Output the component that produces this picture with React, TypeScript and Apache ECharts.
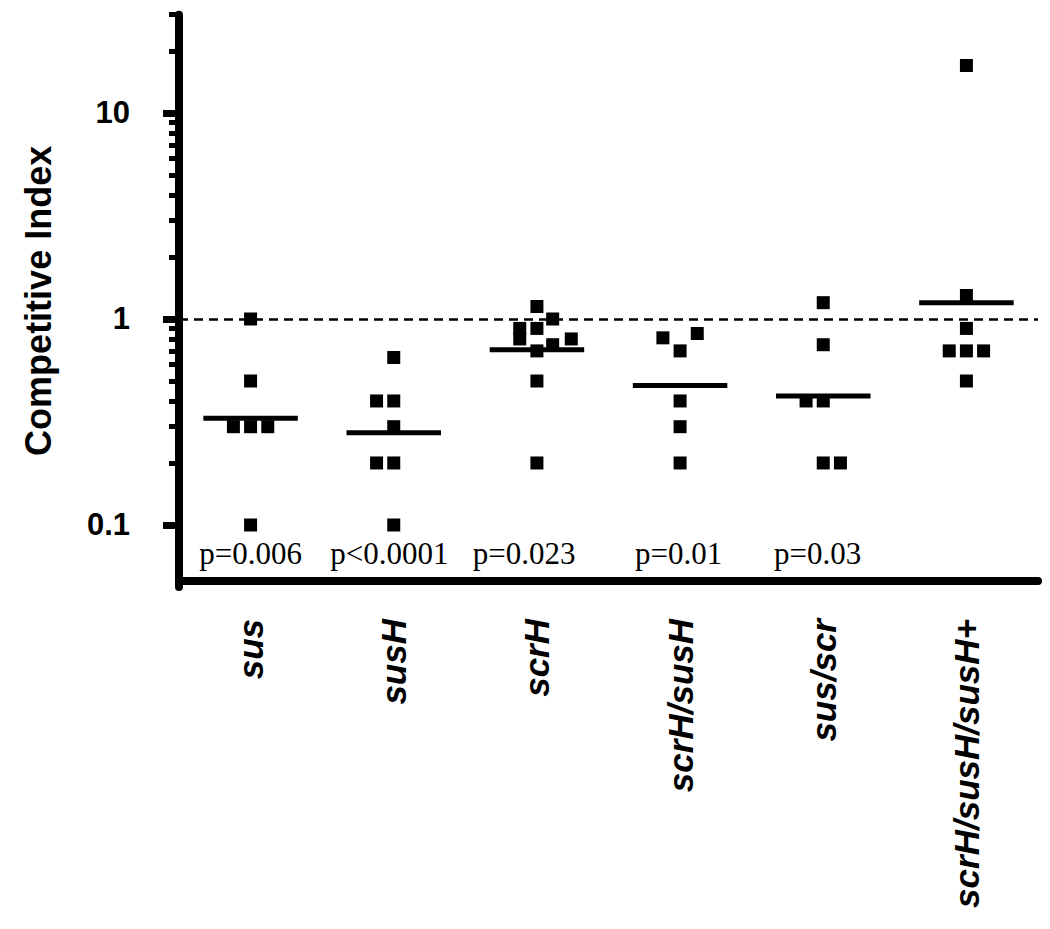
import React, { useEffect, useRef } from "react";
import * as echarts from "echarts";

const categories = ["sus", "susH", "scrH", "scrH/susH", "sus/scr", "scrH/susH/susH+"];

const susValues = [1.0, 0.5, 0.3, 0.3, 0.3, 0.1];
const susJitter = [0, 0, -0.12, 0, 0.12, 0];
const susHValues = [0.65, 0.4, 0.4, 0.3, 0.2, 0.2, 0.1];
const susHJitter = [0, -0.12, 0, 0, -0.12, 0, 0];
const scrHValues = [1.15, 1.0, 0.9, 0.8, 0.9, 0.8, 0.75, 0.7, 0.5, 0.2];
const scrHJitter = [0, 0.11, -0.12, -0.12, 0, 0.24, 0.11, 0, 0, 0];
const scrHsusHValues = [0.81, 0.85, 0.7, 0.4, 0.3, 0.2];
const scrHsusHJitter = [-0.12, 0.12, 0, 0, 0, 0];
const susScrValues = [1.2, 0.75, 0.4, 0.4, 0.2, 0.2];
const susScrJitter = [0, 0, -0.12, 0, 0, 0.12];
const tripleValues = [17, 1.3, 0.9, 0.7, 0.7, 0.7, 0.5];
const tripleJitter = [0, 0, 0, -0.12, 0, 0.12, 0];

const geoMeans = [0.33, 0.28, 0.71, 0.475, 0.423, 1.2];

const pLabels = ["p=0.006", "p<0.0001", "p=0.023", "p=0.01", "p=0.03"];
const pLabelX = [0, 0.97, 1.91, 2.99, 3.96];
const pLabelY = 0.073;

const yMin = 0.05;
const yMax = 30;
const referenceLevel = 1;
const yMajorTicks = [0.1, 1, 10];
const yMinorTicks = [0.2, 0.3, 0.4, 0.5, 0.6, 0.7, 0.8, 0.9, 2, 3, 4, 5, 6, 7, 8, 9, 20, 30];

export default function App() {
  const ref = useRef<HTMLDivElement>(null);

  useEffect(() => {
    if (!ref.current) return;
    const chart = echarts.init(ref.current, null, { renderer: "svg" });

    const groups = [
      [susValues, susJitter],
      [susHValues, susHJitter],
      [scrHValues, scrHJitter],
      [scrHsusHValues, scrHsusHJitter],
      [susScrValues, susScrJitter],
      [tripleValues, tripleJitter],
    ];
    const points: number[][] = [];
    groups.forEach(([vals, jit], i) => {
      vals.forEach((v, j) => points.push([i + jit[j], v]));
    });
    const meanData = geoMeans.map((v, i) => [i, v]);
    const pData = pLabels.map((t, i) => ({ value: [pLabelX[i], pLabelY], name: t }));

    const sansFont = "'Liberation Sans', Arial, Helvetica, sans-serif";

    chart.setOption({
      animation: false,
      backgroundColor: "#ffffff",
      grid: { left: 179, right: 12, top: 14.7, bottom: 342, containLabel: false },
      xAxis: [
        {
          type: "category",
          data: categories,
          boundaryGap: true,
          offset: -6,
          axisLine: { show: true, onZero: false, lineStyle: { color: "#000", width: 8 } },
          axisTick: { show: false },
          splitLine: { show: false },
          axisLabel: {
            rotate: 90,
            margin: 38,
            color: "#000",
            fontSize: 35,
            fontWeight: "bold",
            fontStyle: "italic",
            fontFamily: sansFont,
            interval: 0,
          },
        },
        {
          type: "value",
          min: -0.5,
          max: 5.5,
          show: false,
          splitLine: { show: false },
        },
      ],
      yAxis: [
        {
          type: "log",
          logBase: 10,
          min: yMin,
          max: yMax,
          position: "left",
          name: "Competitive Index",
          nameLocation: "middle",
          nameRotate: 90,
          nameGap: 123,
          nameMoveOverlap: false,
          nameTextStyle: {
            color: "#000",
            fontSize: 36,
            fontWeight: "bold",
            fontFamily: sansFont,
          },
          axisLine: { show: true, onZero: false, lineStyle: { color: "#000", width: 8 } },
          axisTick: {
            show: true,
            length: 16,
            customValues: yMajorTicks,
            lineStyle: { color: "#000", width: 7 },
          },
          axisLabel: {
            customValues: yMajorTicks,
            margin: 49,
            color: "#000",
            fontSize: 31,
            fontWeight: "bold",
            fontFamily: sansFont,
            formatter: (v: number) => String(v),
          },
          splitLine: { show: false },
        },
        {
          type: "log",
          logBase: 10,
          min: yMin,
          max: yMax,
          position: "left",
          axisLine: { show: false, onZero: false },
          axisTick: {
            show: true,
            length: 10,
            customValues: yMinorTicks,
            lineStyle: { color: "#000", width: 5 },
          },
          axisLabel: { show: false },
          splitLine: { show: false },
        },
      ],
      series: [
        {
          type: "scatter",
          xAxisIndex: 1,
          yAxisIndex: 0,
          symbol: "rect",
          symbolSize: 13,
          itemStyle: { color: "#000", opacity: 1 },
          data: points,
          z: 3,
          markLine: {
            silent: true,
            symbol: "none",
            label: { show: false },
            lineStyle: { color: "#000", width: 2.5, type: [9, 6], opacity: 1 },
            data: [{ yAxis: referenceLevel }],
          },
        },
        {
          type: "custom",
          xAxisIndex: 1,
          yAxisIndex: 0,
          data: meanData,
          z: 4,
          renderItem: (params: any, api: any) => {
            const x = api.value(0);
            const y = api.value(1);
            const p1 = api.coord([x - 0.33, y]);
            const p2 = api.coord([x + 0.33, y]);
            return {
              type: "line",
              shape: { x1: p1[0], y1: p1[1], x2: p2[0], y2: p2[1] },
              style: { stroke: "#000", lineWidth: 5 },
            };
          },
        },
        {
          type: "scatter",
          xAxisIndex: 1,
          yAxisIndex: 0,
          symbolSize: 0,
          data: pData,
          silent: true,
          itemStyle: { opacity: 1 },
          label: {
            show: true,
            position: "inside",
            formatter: (p: any) => p.name,
            color: "#000",
            opacity: 1,
            fontSize: 31,
            fontFamily: "'Liberation Serif', 'Times New Roman', Times, serif",
            align: "center",
            verticalAlign: "middle",
          },
        },
      ],
    });

    return () => chart.dispose();
  }, []);

  return (
    <div
      ref={ref}
      style={{ position: "absolute", left: 0, top: 0, width: 1050, height: 929 }}
    />
  );
}
